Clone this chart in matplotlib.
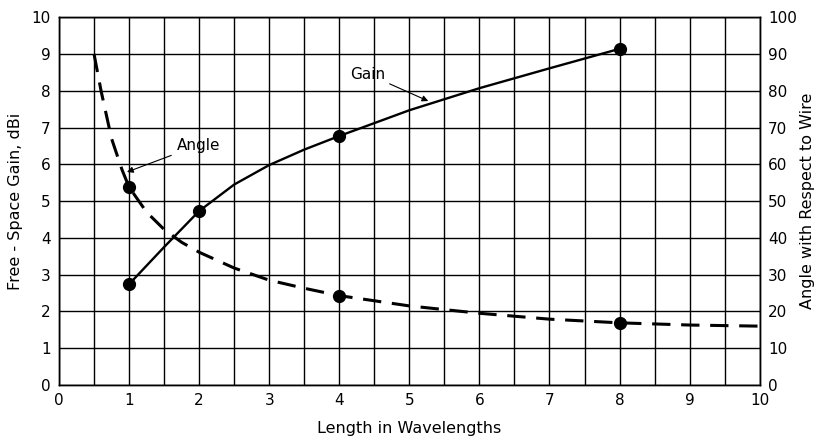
import matplotlib
matplotlib.use('Agg')
import matplotlib.pyplot as plt

# Gain curve (left axis, dBi)
gain_x = [1, 1.5, 2, 2.5, 3, 3.5, 4, 5, 6, 7, 8]
gain_y = [2.74, 3.75, 4.73, 5.45, 5.98, 6.4, 6.77, 7.47, 8.07, 8.61, 9.14]
gain_pts_x = [1, 2, 4, 8]
gain_pts_y = [2.74, 4.73, 6.77, 9.14]

# Angle curve (right axis, degrees)
angle_x = [0.5, 0.6, 0.75, 0.9, 1, 1.25, 1.5, 1.75, 2, 2.5, 3, 3.5, 4, 5, 6, 7, 8, 9, 10]
angle_y = [90, 80, 67, 58.5, 53.8, 47, 42.3, 38.8, 36.1, 31.8, 28.5, 26.3, 24.3, 21.5, 19.5, 17.9, 16.9, 16.3, 16.0]
angle_pts_x = [1, 4, 8]
angle_pts_y = [53.8, 24.3, 16.9]

fig = plt.figure(figsize=(8.16, 4.41), dpi=100)
ax = fig.add_axes([0.0723, 0.127, 0.8587, 0.834])
ax2 = ax.twinx()

ax.set_xlim(0, 10)
ax.set_ylim(0, 10)
ax2.set_ylim(0, 100)
ax.set_xticks(range(0, 11))
ax.set_xticks([i + 0.5 for i in range(10)], minor=True)
ax.set_yticks(range(0, 11))
ax2.set_yticks(range(0, 101, 10))
ax.grid(True, which='both', color='black', lw=1.0)
ax.set_axisbelow(True)
for a in (ax, ax2):
    a.tick_params(which='both', length=0, labelsize=11, pad=6)
    for s in a.spines.values():
        s.set_linewidth(1.0)

ax.plot(gain_x, gain_y, color='black', lw=1.7)
ax.plot(gain_pts_x, gain_pts_y, 'o', color='black', ms=8.5)
ax2.plot(angle_x, angle_y, color='black', lw=2.2, dashes=(6, 3.5))
ax2.plot(angle_pts_x, angle_pts_y, 'o', color='black', ms=8.5)

ax.annotate('Gain', xy=(5.27, 7.72), xytext=(4.41, 8.45), fontsize=11,
            ha='center', va='center',
            arrowprops=dict(arrowstyle='-|>', color='black', lw=0.8,
                            mutation_scale=9, shrinkA=1, shrinkB=0))
ax.annotate('Angle', xy=(0.97, 5.79), xytext=(1.99, 6.52), fontsize=11,
            ha='center', va='center',
            arrowprops=dict(arrowstyle='-|>', color='black', lw=0.8,
                            mutation_scale=9, shrinkA=2, shrinkB=0))

ax.set_xlabel('Length in Wavelengths', fontsize=11.5, labelpad=9)
ax.set_ylabel('Free - Space Gain, dBi', fontsize=11.5, labelpad=6)
ax2.set_ylabel('Angle with Respect to Wire', fontsize=11.5, labelpad=2)

fig.savefig('out.png', dpi=100)
